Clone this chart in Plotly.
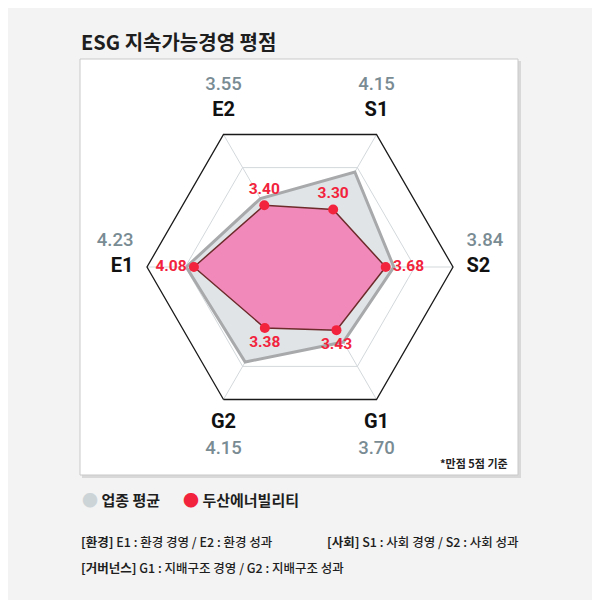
import plotly.graph_objects as go

# axis order, clockwise starting from the left vertex
categories = ["E1", "E2", "S1", "S2", "G1", "G2"]
industry_avg = [4.23, 3.55, 4.15, 3.84, 3.70, 4.15]
doosan = [4.08, 3.40, 3.30, 3.68, 3.43, 3.38]

avg_name = "업종 평균"
company_name = "두산에너빌리티"

title_text = "ESG 지속가능경영 평점"
note_text = "*만점 5점 기준"
footnotes = [
    ("[환경]", "E1 : 환경 경영 / E2 : 환경 성과"),
    ("[사회]", "S1 : 사회 경영 / S2 : 사회 성과"),
    ("[거버넌스]", "G1 : 지배구조 경영 / G2 : 지배구조 성과"),
]

r_min, r_max = 2.0, 5.0
grid_vals = [2.75, 3.5, 4.25]

FONT = "Roboto, 'Noto Sans CJK KR', sans-serif"
KFONT = "'Noto Sans CJK KR', Roboto, sans-serif"
RED = "#f2233c"
GREY_TXT = "#798b93"
BG = "#f3f3f3"

W = H = 600
OFF = 8  # the page puts the plot 8px in from the top-left corner


def px(x):
    return (x - OFF) / W


def py(y):
    return 1 - (y - OFF) / H


# label placement around the outer ring
outer_pos = ["middle left", "top center", "top center", "middle right",
             "bottom center", "bottom center"]
value_pos = ["middle left", "top center", "top center", "middle right",
             "bottom center", "bottom center"]


def outer_label(cat, val, pos):
    num = (f"<span style='color:{GREY_TXT};font-size:18.5px;font-weight:500'>"
           f"{val:.2f}</span>")
    lab = f"<b>{cat}</b>"
    if pos.startswith("bottom"):
        return f"{lab}<br>{num}"
    if pos.startswith("middle"):
        return f"{num}<br>{lab}<br> "
    return f"{num}<br>{lab}"


fig = go.Figure()

theta_closed = categories + categories[:1]

fig.add_trace(go.Scatterpolar(
    r=industry_avg + industry_avg[:1],
    theta=theta_closed,
    mode="lines",
    fill="toself",
    fillcolor="#e0e4e7",
    line=dict(color="#a7a9ab", width=3),
    name=avg_name,
    showlegend=False,
    hoverinfo="skip",
))

fig.add_trace(go.Scatterpolar(
    r=doosan + doosan[:1],
    theta=theta_closed,
    mode="lines",
    fill="toself",
    fillcolor="rgba(244,118,176,0.82)",
    line=dict(color="#6e2b2b", width=1.5),
    name=company_name,
    showlegend=False,
    hoverinfo="skip",
))

fig.add_trace(go.Scatterpolar(
    r=doosan,
    theta=categories,
    mode="markers+text",
    marker=dict(color=RED, size=10),
    text=[f"<b>{v:.2f}</b>" for v in doosan],
    textposition=value_pos,
    textfont=dict(family=FONT, size=15.5, color=RED),
    cliponaxis=False,
    showlegend=False,
    hoverinfo="skip",
))

# invisible markers only push the ring labels away from the vertices
fig.add_trace(go.Scatterpolar(
    r=[r_max] * len(categories),
    theta=categories,
    mode="markers+text",
    marker=dict(size=20, opacity=0),
    text=[outer_label(c, v, p) for c, v, p in zip(categories, industry_avg, outer_pos)],
    textposition=outer_pos,
    textfont=dict(family=FONT, size=20, color="#111111"),
    cliponaxis=False,
    showlegend=False,
    hoverinfo="skip",
))

fig.update_layout(
    width=W,
    height=H,
    margin=dict(l=0, r=0, t=0, b=0),
    paper_bgcolor=BG,
    plot_bgcolor=BG,
    font=dict(family=FONT, color="#222222"),
    polar=dict(
        domain=dict(x=[px(147), px(453)], y=[py(420), py(114)]),
        bgcolor="white",
        gridshape="linear",
        radialaxis=dict(
            range=[r_min, r_max],
            tickvals=grid_vals,
            showticklabels=False,
            ticks="",
            showline=False,
            gridcolor="#d3d8db",
            gridwidth=1,
        ),
        angularaxis=dict(
            categoryorder="array",
            categoryarray=categories,
            rotation=180,
            direction="clockwise",
            showticklabels=False,
            ticks="",
            showline=True,
            linecolor="#1a1a1a",
            linewidth=1.3,
            gridcolor="#d3d8db",
            gridwidth=1,
        ),
    ),
    shapes=[
        dict(type="rect", xref="paper", yref="paper", layer="below",
             x0=px(82), x1=px(521), y0=py(478), y1=py(61),
             fillcolor="#d8d8d8", line=dict(width=0)),
        dict(type="rect", xref="paper", yref="paper", layer="below",
             x0=px(80), x1=px(518), y0=py(475), y1=py(59),
             fillcolor="white", line=dict(color="#c9c9c9", width=1)),
    ],
)

annotations = [
    dict(text=f"<b>{title_text}</b>", x=px(79), y=py(41),
         font=dict(family=KFONT, size=20, color="#1e1e1e")),
    dict(text=f"<b>{note_text}</b>", x=px(510), y=py(463), xanchor="right",
         font=dict(family=KFONT, size=11, color="#222222")),
    dict(text=f"<span style='color:#cdd4d8;font-size:16px'>●</span> <b>{avg_name}</b>",
         x=px(80), y=py(499),
         font=dict(family=KFONT, size=15, color="#1e1e1e")),
    dict(text=f"<span style='color:{RED};font-size:16px'>●</span> <b>{company_name}</b>",
         x=px(181), y=py(499),
         font=dict(family=KFONT, size=15, color="#1e1e1e")),
]
foot_xy = [(79, 541), (325, 541), (79, 567)]
for (tag, desc), (fx, fy) in zip(footnotes, foot_xy):
    annotations.append(dict(
        text=f"<b>{tag}</b> {desc}", x=px(fx), y=py(fy),
        font=dict(family=KFONT, size=12.5, color="#1e1e1e", weight=500),
    ))
for a in annotations:
    a.setdefault("xanchor", "left")
    a.update(xref="paper", yref="paper", yanchor="middle", showarrow=False)
fig.update_layout(annotations=annotations)

fig.write_html("out.html")
